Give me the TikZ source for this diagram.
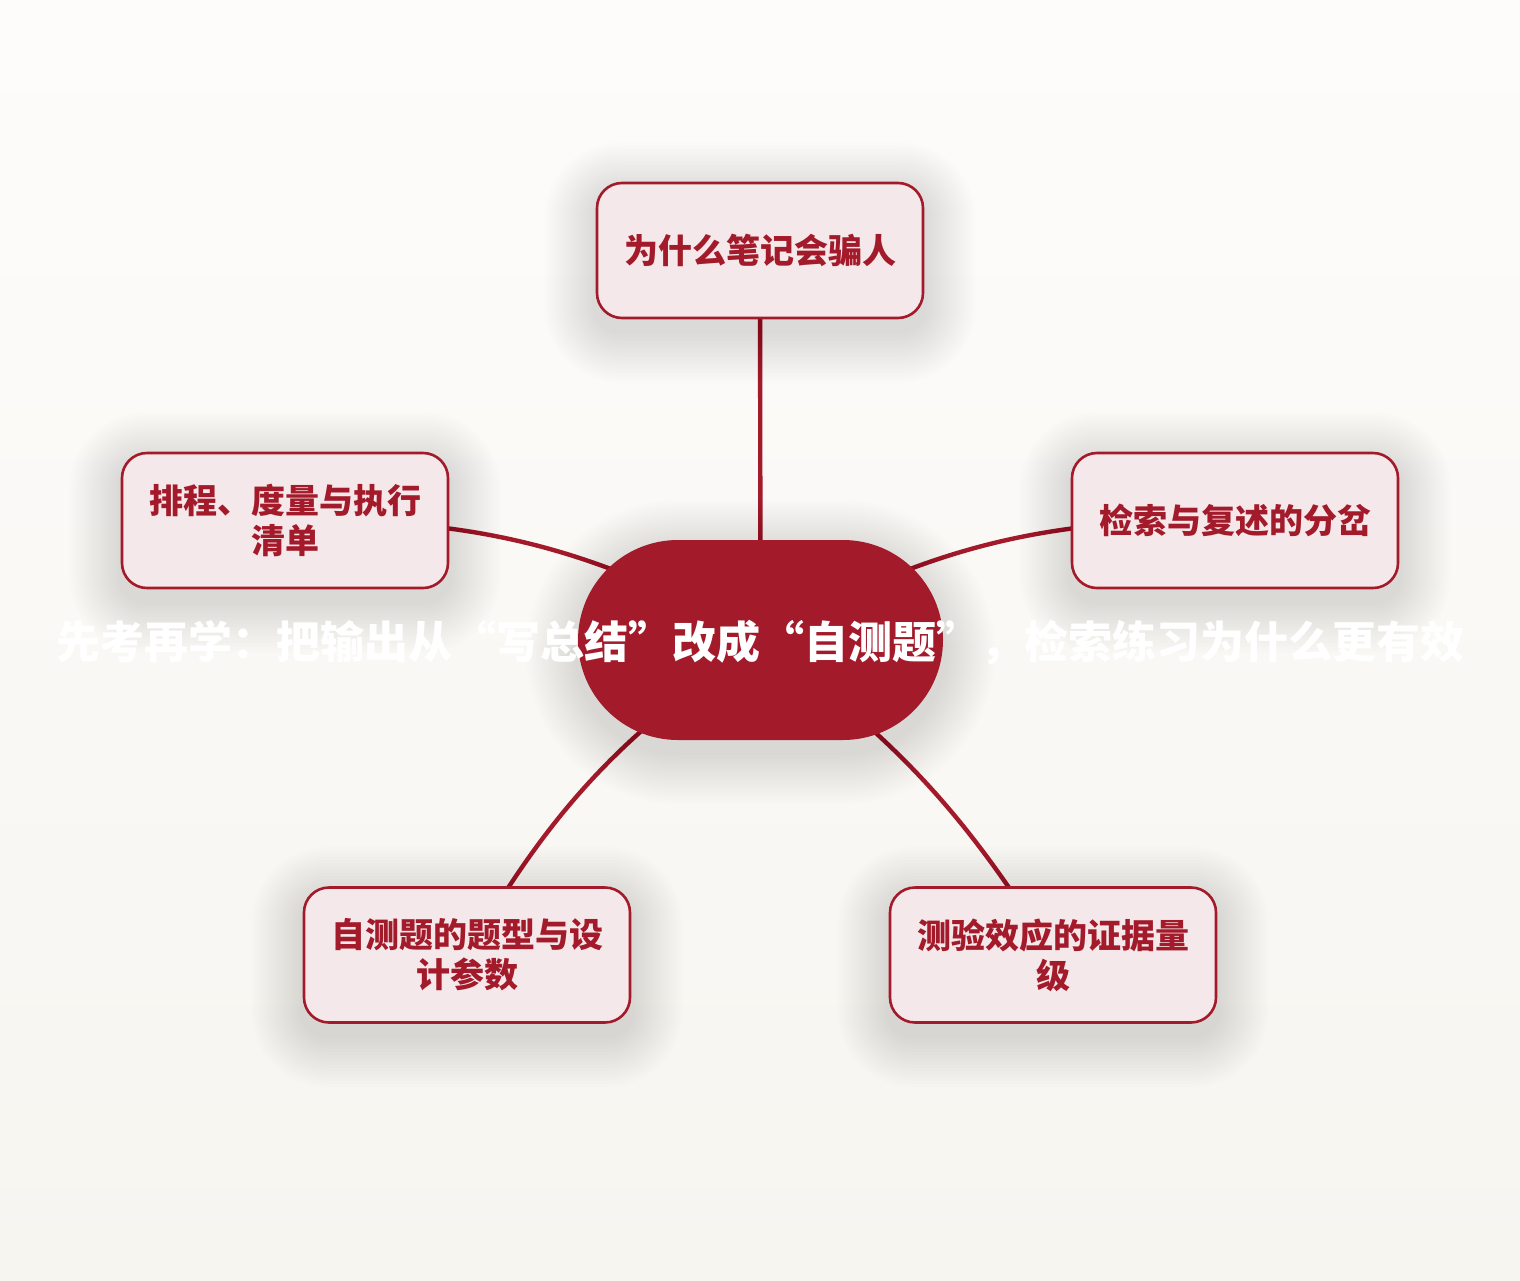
\documentclass[tikz,border=0pt]{standalone}
\usepackage{fontspec}
\setmainfont{Noto Sans CJK SC}
\usetikzlibrary{backgrounds}
\pgfdeclarelayer{background}
\pgfdeclarelayer{shadowlayer}
\pgfsetlayers{background,shadowlayer,main}
\definecolor{crim}{HTML}{A31A2B}
\definecolor{boxfill}{HTML}{F5E8EA}
\definecolor{bgtop}{HTML}{FDFCFB}
\definecolor{bgbot}{HTML}{F7F5F0}
\newcommand\softshadow[2]{%
  \foreach \k in {1,...,16}{%
    \pgfmathsetmacro\rr{#2+\k*1.6}%
    \pgfmathsetmacro\ss{\k*1.6}%
    \fill[black, opacity=0.0088, rounded corners=\rr pt]
      ([shift={(-\ss pt,\ss pt-6pt)}]#1.north west) rectangle
      ([shift={(\ss pt,-\ss pt-6pt)}]#1.south east);
  }}
\begin{document}
\begin{tikzpicture}[x=0.5pt,y=-0.5pt,
  topic/.style={draw=crim, line width=1.3pt, fill=boxfill, rounded corners=12.5pt,
    minimum width=163pt, minimum height=67.5pt, align=center, text=crim,
    font=\fontsize{17pt}{20pt}\selectfont\bfseries, inner sep=0pt},
  hub/.style={fill=crim, rounded corners=50pt, minimum width=182.5pt, minimum height=100pt, inner sep=0pt},
  link/.style={draw=crim, line width=2.2pt, line cap=round},
  headline/.style={text=white, font=\fontsize{22pt}{26pt}\selectfont\bfseries, inner sep=0pt}]
\useasboundingbox (0,0) rectangle (1520,1280);
\node[hub] (c) at (760.5,640) {};
\node[topic] (t) at (760,250.5) {为什么笔记会骗人};
\node[topic] (l) at (285,520.5) {排程、度量与执行\\清单};
\node[topic] (r) at (1235,520.5) {检索与复述的分岔};
\node[topic] (bl) at (467,955) {自测题的题型与设\\计参数};
\node[topic] (br) at (1053,955) {测验效应的证据量\\级};
\node[headline] (title) at (760,643) {先考再学：把输出从“写总结”改成“自测题”，检索练习为什么更有效};
\begin{pgfonlayer}{shadowlayer}
  \softshadow{c}{50}
  \softshadow{t}{12.5}
  \softshadow{l}{12.5}
  \softshadow{r}{12.5}
  \softshadow{bl}{12.5}
  \softshadow{br}{12.5}
\end{pgfonlayer}
\begin{pgfonlayer}{background}
  \fill[top color=bgtop, bottom color=bgbot] (0,0) rectangle (1520,1280);
  \draw[link] (t.center) -- (c.center);
  \draw[link] (l.center) to[bend left=15] (c.center);
  \draw[link] (r.center) to[bend right=15] (c.center);
  \draw[link] (c.center) to[bend right=13] (bl.center);
  \draw[link] (c.center) to[bend left=11] (br.center);
\end{pgfonlayer}
\end{tikzpicture}
\end{document}
